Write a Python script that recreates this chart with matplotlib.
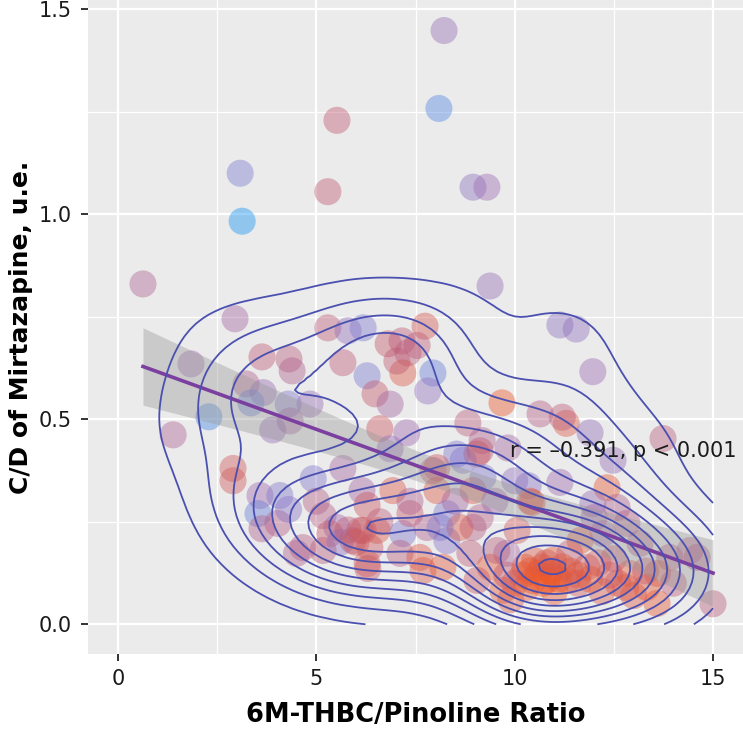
import numpy as np
import matplotlib
matplotlib.use("Agg")
import matplotlib.pyplot as plt
from matplotlib.colors import LinearSegmentedColormap

plt.rcParams['font.family'] = ['DejaVu Sans']

# ---------------- data ----------------
ratio = [0.63, 3.08, 3.13, 5.52, 5.29, 8.22, 8.09, 8.95, 9.30, 9.38, 11.14, 11.55, 11.97, 13.74,
         2.95, 3.63, 4.31, 4.39, 5.29, 5.67, 1.84, 3.23, 3.66, 3.35, 4.29, 4.84, 4.34, 3.90, 2.29, 1.39, 2.90, 2.90,
         5.80, 6.18, 7.74, 6.81, 7.16, 7.31, 7.54, 7.18, 7.03, 6.28, 7.94, 7.81, 6.48, 6.86, 6.60, 7.28,
         9.68, 8.82, 10.64, 11.30, 11.20, 11.90, 9.18, 9.83, 8.54, 9.05, 12.48, 12.33, 11.97,
         3.58, 3.53, 4.08, 4.03, 3.63, 4.92, 5.00, 5.17, 5.52, 5.67, 5.92, 4.66, 5.17, 5.34, 6.15, 6.28,
         6.18, 6.53, 6.35, 6.30, 6.93, 6.86, 7.18, 7.36, 7.11, 7.61, 7.69, 8.04, 8.04, 8.29, 8.29, 8.19,
         8.70, 8.95, 8.95, 8.87, 8.62, 7.79, 7.36, 4.50, 6.10, 6.28, 5.60, 4.30,
         9.13, 9.20, 10.34, 11.14, 10.44, 12.58, 9.13, 10.06, 9.80, 10.26, 10.69, 10.97, 11.39, 10.81,
         10.46, 11.32, 11.82, 12.23, 12.83, 13.16, 12.90, 13.33, 13.59, 13.91, 14.42, 15.00, 9.38, 9.55,
         9.05, 9.70, 11.65, 13.60, 7.94, 10.39, 8.12, 11.00, 10.60, 11.60, 12.20, 12.50, 14.60, 10.00,
         9.50, 12.00, 8.50,
         10.20, 10.90, 11.20, 10.50, 11.60, 10.00, 12.60, 13.00, 14.00, 5.80, 6.00, 6.60, 12.10, 9.90,
         10.30, 10.70, 11.10, 11.40, 10.80, 11.90, 12.40, 9.80, 10.40, 11.00, 12.80, 13.30]
cd_ratio = [0.830, 1.100, 0.983, 1.229, 1.055, 1.448, 1.258, 1.066, 1.066, 0.825, 0.730, 0.720, 0.616, 0.453,
            0.745, 0.652, 0.647, 0.618, 0.723, 0.638, 0.635, 0.586, 0.565, 0.540, 0.537, 0.537, 0.496, 0.474, 0.506, 0.462, 0.380, 0.350,
            0.716, 0.723, 0.727, 0.684, 0.691, 0.662, 0.680, 0.613, 0.642, 0.606, 0.613, 0.569, 0.562, 0.537, 0.477, 0.467,
            0.540, 0.491, 0.513, 0.490, 0.505, 0.467, 0.448, 0.430, 0.415, 0.415, 0.400, 0.333, 0.294,
            0.314, 0.270, 0.314, 0.246, 0.233, 0.355, 0.300, 0.265, 0.236, 0.380, 0.204, 0.187, 0.180, 0.221, 0.326, 0.290,
            0.229, 0.229, 0.187, 0.136, 0.326, 0.428, 0.221, 0.270, 0.173, 0.163, 0.131, 0.382, 0.326, 0.270, 0.204, 0.139,
            0.400, 0.326, 0.236, 0.173, 0.236, 0.236, 0.300, 0.173, 0.229, 0.148, 0.200, 0.280,
            0.423, 0.358, 0.338, 0.346, 0.297, 0.285, 0.260, 0.229, 0.173, 0.139, 0.139, 0.156, 0.173, 0.107,
            0.107, 0.107, 0.139, 0.221, 0.246, 0.197, 0.124, 0.090, 0.051, 0.163, 0.180, 0.050, 0.139, 0.180,
            0.107, 0.083, 0.204, 0.124, 0.375, 0.300, 0.236, 0.120, 0.125, 0.100, 0.080, 0.160, 0.163, 0.350,
            0.300, 0.260, 0.300,
            0.120, 0.130, 0.140, 0.155, 0.120, 0.100, 0.100, 0.070, 0.100, 0.230, 0.200, 0.250, 0.150, 0.060,
            0.090, 0.100, 0.110, 0.130, 0.150, 0.110, 0.120, 0.120, 0.130, 0.080, 0.090, 0.130]
colour_value = [0.60, 0.25, 0.00, 0.72, 0.72, 0.45, 0.15, 0.38, 0.48, 0.45, 0.38, 0.40, 0.48, 0.68,
                0.55, 0.70, 0.68, 0.62, 0.70, 0.70, 0.50, 0.62, 0.45, 0.20, 0.30, 0.45, 0.55, 0.45, 0.12, 0.60, 0.80, 0.80,
                0.42, 0.28, 0.82, 0.75, 0.70, 0.68, 0.70, 0.85, 0.72, 0.25, 0.20, 0.40, 0.75, 0.55, 0.78, 0.50,
                0.92, 0.68, 0.65, 0.85, 0.70, 0.42, 0.62, 0.55, 0.30, 0.78, 0.45, 0.90, 0.45,
                0.50, 0.20, 0.30, 0.65, 0.62, 0.30, 0.65, 0.65, 0.50, 0.55, 0.68, 0.65, 0.68, 0.75, 0.55, 0.78,
                0.85, 0.85, 0.78, 0.75, 0.85, 0.45, 0.30, 0.75, 0.68, 0.85, 0.85, 0.78, 0.85, 0.30, 0.35, 0.88,
                0.30, 0.85, 0.65, 0.70, 0.85, 0.62, 0.62, 0.62, 0.70, 0.80, 0.40, 0.35,
                0.72, 0.30, 0.35, 0.50, 0.88, 0.62, 0.65, 0.80, 0.55, 0.90, 0.92, 0.90, 0.70, 0.92,
                0.85, 0.90, 0.80, 0.55, 0.65, 0.65, 0.90, 0.90, 0.90, 0.68, 0.62, 0.68, 0.90, 0.68,
                0.78, 0.90, 0.88, 0.85, 0.72, 0.85, 0.30, 0.95, 0.95, 0.80, 0.85, 0.75, 0.65, 0.40,
                0.50, 0.55, 0.55,
                0.90, 0.92, 0.88, 0.85, 0.85, 0.85, 0.82, 0.85, 0.70, 0.72, 0.80, 0.70, 0.80, 0.85,
                0.92, 0.95, 0.90, 0.85, 0.80, 0.88, 0.80, 0.75, 0.90, 0.92, 0.85, 0.75]

x_ticks = [0, 5, 10, 15]
y_ticks = [0.0, 0.5, 1.0, 1.5]
y_ticklabels = ["0.0", "0.5", "1.0", "1.5"]
annotation = "r = \u20130.391, p < 0.001"
x_title = "6M-THBC/Pinoline Ratio"
y_title = "C/D of Mirtazapine, u.e."


def r_pretty(lo, hi, ndiv=10):
    """Break points like R's pretty()."""
    h, h5 = 1.5, 0.5 + 1.5 * 1.5
    cell = (hi - lo) / ndiv
    unit = 10 ** np.floor(np.log10(cell))
    if 2 * unit - cell < h * (cell - unit):
        unit = 2 * unit
        if 5 * unit / 2 - cell < h5 * (cell - unit):
            unit = 5 * unit / 2
            if 2 * unit - cell < h * (cell - unit):
                unit = 2 * unit
    start = np.floor(lo / unit + 1e-7) * unit
    end = np.ceil(hi / unit - 1e-7) * unit
    return np.arange(start, end + unit / 2, unit)


# ---------------- figure ----------------
x = np.array(ratio)
y = np.array(cd_ratio)
c = np.array(colour_value)

fig = plt.figure(figsize=(7.43, 7.30), dpi=100)
ax = fig.add_axes([88/743, 1 - 654/730, 1 - 88/743, 654/730])
ax.set_facecolor('#EBEBEB')

cmap = LinearSegmentedColormap.from_list(
    'pts', ['#1495F2', '#7A7AD3', '#9E68AF', '#C3576A', '#FF5A10'])
ax.scatter(x, y, s=380, c=c, cmap=cmap, vmin=0, vmax=1, alpha=0.42,
           linewidths=0, zorder=2)

# linear fit with 95% CI
n = len(x)
slope, intercept = np.polyfit(x, y, 1)
xs = np.linspace(x.min(), x.max(), 100)
yfit = intercept + slope * xs
resid = y - (intercept + slope * x)
s_err = np.sqrt(np.sum(resid ** 2) / (n - 2))
sxx = np.sum((x - x.mean()) ** 2)
se = s_err * np.sqrt(1 / n + (xs - x.mean()) ** 2 / sxx)
tval = 1.974
ax.fill_between(xs, yfit - tval * se, yfit + tval * se, color='#999999',
                alpha=0.4, linewidth=0, zorder=3)
ax.plot(xs, yfit, color='#7B3FA0', lw=2.6, zorder=4)

# 2-D kernel density (MASS::kde2d style bandwidth)
def bw(v):
    q75, q25 = np.percentile(v, [75, 25])
    return 1.06 * min(np.std(v, ddof=1), (q75 - q25) / 1.34) * len(v) ** (-0.2)

hx, hy = bw(x), bw(y)
gx = np.linspace(0, 15, 100)
gy = np.linspace(0, 1.45, 100)
ZX = np.exp(-0.5 * ((gx[:, None] - x[None, :]) / hx) ** 2) / (np.sqrt(2 * np.pi) * hx)
ZY = np.exp(-0.5 * ((gy[:, None] - y[None, :]) / hy) ** 2) / (np.sqrt(2 * np.pi) * hy)
Z = (ZY @ ZX.T) / n
levels = r_pretty(Z.min(), Z.max(), 10)
levels = levels[(levels > Z.min()) & (levels < Z.max())]
ax.contour(gx, gy, Z, levels=levels, colors='#4B50B0', linewidths=1.3, zorder=5)

ax.text(9.88, 0.423, annotation, fontsize=15, color='#1A1A1A',
        ha='left', va='center', zorder=6)

# axes styling (ggplot grey theme)
ax.set_xlim(-0.756, 15.756)
ax.set_ylim(-0.0725, 1.5225)
ax.set_xticks(x_ticks)
ax.set_yticks(y_ticks)
ax.set_yticklabels(y_ticklabels)
ax.set_xticks([2.5, 7.5, 12.5], minor=True)
ax.set_yticks([0.25, 0.75, 1.25], minor=True)
ax.grid(which='major', color='white', lw=1.6, zorder=0)
ax.grid(which='minor', color='white', lw=0.9, zorder=0)
ax.set_axisbelow(True)
for sp in ax.spines.values():
    sp.set_visible(False)
ax.tick_params(which='major', length=5, width=1.4, color='#333333',
               labelsize=15, labelcolor='#1A1A1A')
ax.tick_params(axis='y', which='major', pad=7)
ax.tick_params(axis='x', which='major', pad=6)
ax.tick_params(which='minor', length=0)
ax.set_xlabel(x_title, fontsize=18.5, fontweight='bold')
ax.set_ylabel(y_title, fontsize=18, fontweight='bold')
ax.xaxis.set_label_coords(0.5, (654 - 702) / 654)
ax.yaxis.set_label_coords((33 - 88) / 655, 0.5)

fig.savefig('out.png', dpi=100)
